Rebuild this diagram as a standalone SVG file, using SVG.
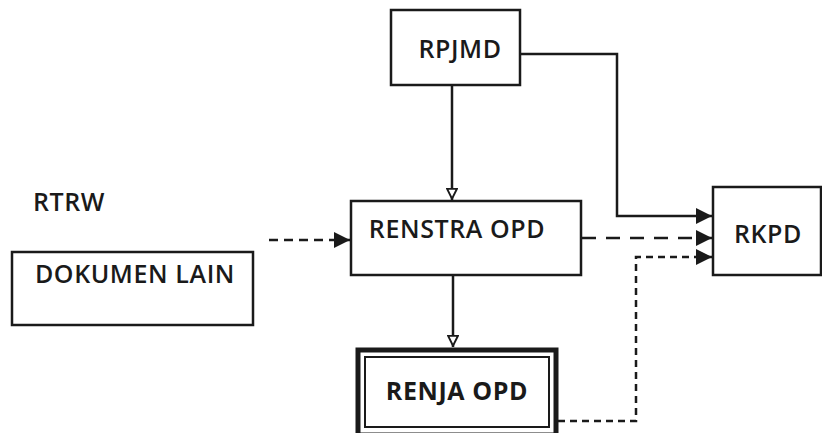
<svg xmlns="http://www.w3.org/2000/svg" width="822" height="433" viewBox="0 0 822 433">
<defs>
<style>
.box{fill:#fff;stroke:#1a1a1a;stroke-width:2.5}
.t{font-family:"Open Sans","Noto Sans",sans-serif;font-weight:600;font-size:25px;letter-spacing:0.6px;fill:#1a1a1a;text-anchor:middle}
.ln{fill:none;stroke:#1a1a1a;stroke-width:2.5}
.ds{fill:none;stroke:#1a1a1a;stroke-width:2.5;stroke-dasharray:9,6}
.dl{fill:none;stroke:#1a1a1a;stroke-width:2.5;stroke-dasharray:14,10}
.dt{fill:none;stroke:#1a1a1a;stroke-width:2.5;stroke-dasharray:7,5}
</style>
<marker id="ah" viewBox="0 0 10 10" refX="10" refY="5" markerWidth="6.5" markerHeight="6.5" markerUnits="strokeWidth" orient="auto">
<path d="M0,0 L10,5 L0,10 z" fill="#1a1a1a"/>
</marker>
<marker id="ao" viewBox="0 0 10 10" refX="10" refY="5" markerWidth="5" markerHeight="5" markerUnits="strokeWidth" orient="auto">
<path d="M1,1 L9,5 L1,9 z" fill="#fff" stroke="#1a1a1a" stroke-width="1.5"/>
</marker>
</defs>
<rect width="822" height="433" fill="#fff"/>
<g id="connectors">
<path class="ln" d="M452,85 V200" marker-end="url(#ao)"/>
<path class="ln" d="M520,54 H617 V216 H712" marker-end="url(#ah)"/>
<path class="ds" d="M269,240 H350" marker-end="url(#ah)"/>
<path class="dl" d="M582,238 H712" marker-end="url(#ah)"/>
<path class="ln" d="M453,275 V347" marker-end="url(#ao)"/>
<path class="dt" d="M558,421 H636 V257 H712" marker-end="url(#ah)"/>
</g>
<g id="rpjmd">
<rect class="box" x="391" y="10" width="129" height="75"/>
<text class="t" x="460" y="58">RPJMD</text>
</g>
<g id="rtrw">
<text class="t" x="69" y="211">RTRW</text>
</g>
<g id="dokumen-lain">
<rect class="box" x="12" y="252" width="241" height="73"/>
<text class="t" x="135" y="283">DOKUMEN LAIN</text>
</g>
<g id="renstra-opd">
<rect class="box" x="351" y="201" width="230" height="74"/>
<text class="t" x="457" y="238">RENSTRA OPD</text>
</g>
<g id="rkpd">
<rect class="box" x="713" y="187" width="108" height="88"/>
<text class="t" x="768" y="243">RKPD</text>
</g>
<g id="renja-opd">
<rect x="358" y="350" width="198" height="85" fill="#fff" stroke="#1a1a1a" stroke-width="5"/>
<rect x="365" y="357" width="184" height="70" fill="#fff" stroke="#1a1a1a" stroke-width="2"/>
<text class="t" x="457" y="400" style="font-weight:700">RENJA OPD</text>
</g>
</svg>
